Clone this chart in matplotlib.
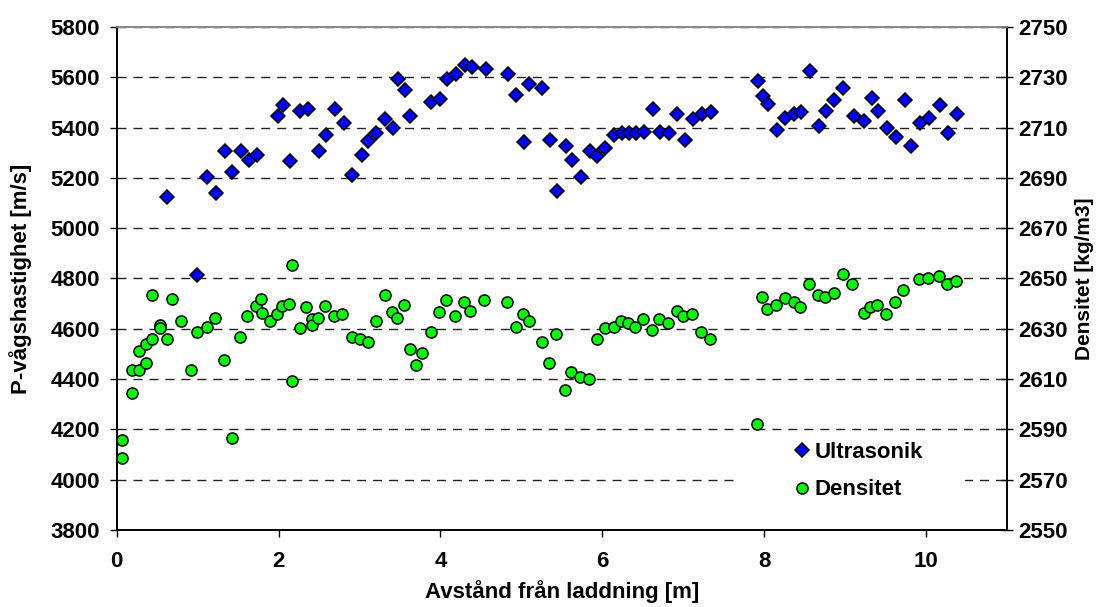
import matplotlib
matplotlib.use("Agg")
import matplotlib.pyplot as plt
from matplotlib.patches import Rectangle

plt.rcParams['font.family'] = ['Liberation Sans', 'DejaVu Sans']
plt.rcParams['font.weight'] = 'bold'

# P-wave velocity measured by ultrasound [m/s]
ultra_x = [0.62, 0.99, 1.12, 1.23, 1.34, 1.43, 1.54, 1.63, 1.73, 1.99, 2.05, 2.14,
           2.26, 2.36, 2.50, 2.59, 2.70, 2.81, 2.91, 3.03, 3.11, 3.21, 3.32, 3.41,
           3.48, 3.56, 3.63, 3.88, 3.99, 4.08, 4.19, 4.30, 4.39, 4.56, 4.84, 4.94,
           5.03, 5.10, 5.26, 5.35, 5.44, 5.55, 5.63, 5.74, 5.85, 5.94, 6.04, 6.15,
           6.24, 6.33, 6.42, 6.52, 6.63, 6.72, 6.82, 6.93, 7.02, 7.12, 7.23, 7.34,
           7.92, 7.99, 8.05, 8.16, 8.26, 8.37, 8.46, 8.57, 8.68, 8.77, 8.87, 8.98,
           9.11, 9.24, 9.33, 9.41, 9.52, 9.63, 9.74, 9.82, 9.93, 10.04, 10.17, 10.28,
           10.38]
ultra_v = [5125, 4813, 5202, 5140, 5308, 5223, 5308, 5271, 5292, 5446, 5489, 5266,
           5467, 5474, 5308, 5369, 5474, 5418, 5210, 5292, 5348, 5377, 5433, 5397,
           5592, 5549, 5446, 5502, 5515, 5592, 5613, 5648, 5642, 5634, 5613, 5530,
           5343, 5572, 5557, 5349, 5147, 5328, 5272, 5202, 5308, 5286, 5320, 5369,
           5377, 5377, 5377, 5384, 5474, 5384, 5377, 5454, 5349, 5433, 5454, 5461,
           5585, 5524, 5495, 5390, 5439, 5454, 5461, 5626, 5405, 5467, 5510, 5557,
           5446, 5425, 5516, 5467, 5397, 5363, 5510, 5328, 5418, 5439, 5489, 5377,
           5454]

# Density [kg/m3]
dens_x = [0.07, 0.07, 0.19, 0.19, 0.27, 0.27, 0.36, 0.36, 0.44, 0.44, 0.53, 0.53,
          0.62, 0.68, 0.79, 0.92, 0.99, 1.11, 1.22, 1.33, 1.42, 1.52, 1.61, 1.72,
          1.78, 1.80, 1.89, 1.98, 2.04, 2.13, 2.17, 2.17, 2.26, 2.34, 2.41, 2.41,
          2.49, 2.58, 2.69, 2.79, 2.91, 3.01, 3.10, 3.21, 3.31, 3.40, 3.47, 3.55,
          3.62, 3.70, 3.77, 3.88, 3.98, 4.07, 4.18, 4.29, 4.37, 4.54, 4.82, 4.93,
          5.02, 5.09, 5.25, 5.34, 5.43, 5.54, 5.62, 5.73, 5.84, 5.93, 6.03, 6.14,
          6.23, 6.32, 6.40, 6.51, 6.62, 6.70, 6.81, 6.92, 7.00, 7.11, 7.22, 7.33,
          7.91, 7.98, 8.04, 8.15, 8.26, 8.37, 8.45, 8.56, 8.67, 8.75, 8.86, 8.97,
          9.09, 9.23, 9.31, 9.40, 9.51, 9.62, 9.72, 9.92, 10.03, 10.16, 10.26, 10.37]
dens_v = [2585.8, 2578.7, 2604.6, 2613.5, 2613.5, 2621.2, 2616.3, 2623.8, 2626.1, 2643.4,
          2631.6, 2630.2, 2626.1, 2642.0, 2633.0, 2613.6, 2628.7, 2630.8, 2634.4, 2617.7,
          2586.5, 2626.7, 2635.1, 2639.2, 2642.0, 2636.4, 2633.0, 2635.8, 2639.2, 2639.9,
          2655.2, 2609.4, 2630.2, 2638.5, 2633.8, 2631.6, 2634.4, 2639.2, 2635.1, 2635.8,
          2626.7, 2626.1, 2624.6, 2633.0, 2643.6, 2636.6, 2634.4, 2639.3, 2622.0, 2615.6,
          2620.5, 2628.8, 2636.6, 2641.4, 2635.1, 2640.7, 2637.2, 2641.4, 2640.7, 2630.8,
          2635.9, 2633.0, 2624.6, 2616.3, 2628.0, 2605.8, 2612.8, 2610.7, 2610.0, 2626.1,
          2630.2, 2630.8, 2633.0, 2632.3, 2630.8, 2633.8, 2629.5, 2633.8, 2632.3, 2637.2,
          2635.1, 2635.9, 2628.8, 2626.1, 2592.1, 2642.8, 2637.9, 2639.3, 2642.1, 2640.7,
          2638.7, 2647.7, 2643.4, 2642.8, 2644.1, 2651.8, 2647.7, 2636.4, 2638.5, 2639.3,
          2635.8, 2640.7, 2645.5, 2649.7, 2650.3, 2651.1, 2647.7, 2649.0]

x_ticks = [0, 2, 4, 6, 8, 10]
left_ticks = list(range(3800, 5801, 200))
right_ticks = list(range(2550, 2751, 20))

FS = 16

fig = plt.figure(figsize=(10.98, 6.07), dpi=100)
ax = fig.add_axes([0.1063, 0.1269, 0.8106, 0.8287])
ax2 = ax.twinx()

ax.set_xlim(0, 11)
ax.set_ylim(3800, 5800)
ax2.set_ylim(2550, 2750)

ax.set_xticks(x_ticks)
ax.set_yticks(left_ticks)
ax2.set_yticks(right_ticks)

ax.set_axisbelow(True)
ax.yaxis.grid(True, color='#222222', linewidth=1.0, linestyle=(0, (6.5, 5.0)))
ax.xaxis.grid(False)

ax.plot(ultra_x, ultra_v, linestyle='none', marker='D', markersize=7.4,
        markerfacecolor='#0000ff', markeredgecolor='black', markeredgewidth=1.1,
        label='Ultrasonik', zorder=3)
ax2.plot(dens_x, dens_v, linestyle='none', marker='o', markersize=8.0,
         markerfacecolor='#00ff00', markeredgecolor='black', markeredgewidth=1.1,
         label='Densitet', zorder=3)

for a in (ax, ax2):
    for side in ('left', 'right', 'bottom'):
        a.spines[side].set_color('black')
        a.spines[side].set_linewidth(1.2)
    a.spines['top'].set_color('#888888')
    a.spines['top'].set_linewidth(1.2)

ax.tick_params(axis='y', direction='out', length=5, width=1, pad=7, labelsize=FS)
ax.tick_params(axis='x', direction='out', length=5, width=1, pad=10, labelsize=FS)
ax2.tick_params(axis='y', direction='inout', length=9, width=1, pad=4, labelsize=FS)
for lbl in ax.get_xticklabels() + ax.get_yticklabels() + ax2.get_yticklabels():
    lbl.set_fontweight('bold')

ax.set_xlabel('Avstånd från laddning [m]', fontsize=FS, fontweight='bold')
ax.set_ylabel('P-vågshastighet [m/s]', fontsize=FS, fontweight='bold')
ax2.set_ylabel('Densitet [kg/m3]', fontsize=15, fontweight='bold', rotation=90)
ax.xaxis.set_label_coords(0.5, -0.1)
ax.yaxis.set_label_coords(-0.095, 0.5)
ax2.yaxis.set_label_coords(1.077, 0.5)

# white legend background
ax2.add_patch(Rectangle((0.700, 0.044), 0.253, 0.152, transform=ax2.transAxes,
                        facecolor='white', edgecolor='none', zorder=2))

h1, l1 = ax.get_legend_handles_labels()
h2, l2 = ax2.get_legend_handles_labels()
leg = ax2.legend(h1 + h2, l1 + l2, loc='center left', bbox_to_anchor=(0.747, 0.117),
                 frameon=False, handlelength=0.8, handletextpad=0.2, borderpad=0,
                 labelspacing=0.75, prop={'size': FS, 'weight': 'bold'})
leg.set_zorder(5)

fig.savefig('out.png', dpi=100)
